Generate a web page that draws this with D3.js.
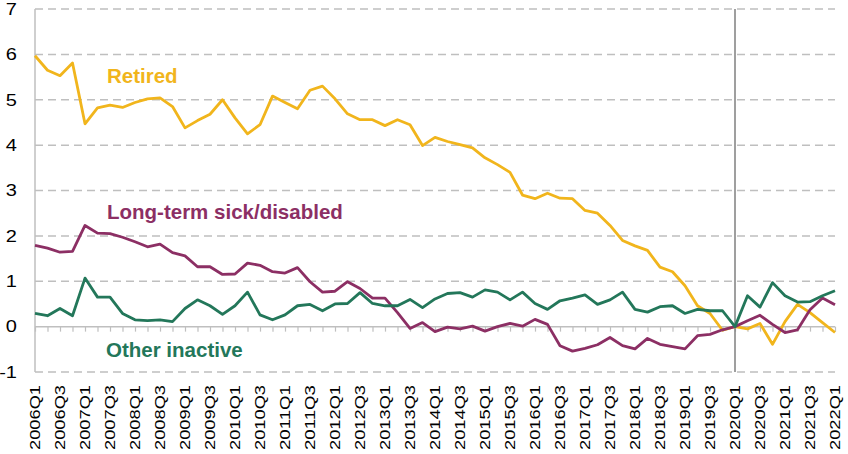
<!DOCTYPE html>
<html>
<head>
<meta charset="utf-8">
<script src="https://cdn.jsdelivr.net/npm/d3@7"></script>
<style>
  html, body { margin: 0; padding: 0; background: #fff; }
  svg { display: block; font-family: "Liberation Sans", Arial, sans-serif; }
</style>
</head>
<body>
<svg id="chart" width="848" height="454"></svg>
<script>
const quarters = ["2006Q1","2006Q2","2006Q3","2006Q4","2007Q1","2007Q2","2007Q3","2007Q4",
  "2008Q1","2008Q2","2008Q3","2008Q4","2009Q1","2009Q2","2009Q3","2009Q4",
  "2010Q1","2010Q2","2010Q3","2010Q4","2011Q1","2011Q2","2011Q3","2011Q4",
  "2012Q1","2012Q2","2012Q3","2012Q4","2013Q1","2013Q2","2013Q3","2013Q4",
  "2014Q1","2014Q2","2014Q3","2014Q4","2015Q1","2015Q2","2015Q3","2015Q4",
  "2016Q1","2016Q2","2016Q3","2016Q4","2017Q1","2017Q2","2017Q3","2017Q4",
  "2018Q1","2018Q2","2018Q3","2018Q4","2019Q1","2019Q2","2019Q3","2019Q4",
  "2020Q1","2020Q2","2020Q3","2020Q4","2021Q1","2021Q2","2021Q3","2021Q4","2022Q1"];

const retired = [5.97,5.65,5.53,5.81,4.47,4.82,4.88,4.83,4.94,5.02,5.04,4.85,4.38,4.54,4.68,5.00,
  4.60,4.25,4.45,5.08,4.94,4.80,5.21,5.30,5.02,4.69,4.56,4.56,4.43,4.56,4.45,3.99,
  4.17,4.08,4.01,3.94,3.72,3.57,3.40,2.90,2.82,2.94,2.83,2.82,2.56,2.50,2.23,1.90,
  1.78,1.68,1.31,1.21,0.90,0.46,0.29,-0.08,0.00,-0.05,0.07,-0.39,0.11,0.49,0.31,0.09,-0.13];

const longTermSick = [1.79,1.73,1.64,1.66,2.23,2.06,2.05,1.97,1.87,1.76,1.82,1.63,1.56,1.32,1.32,1.15,
  1.16,1.40,1.35,1.21,1.18,1.30,0.99,0.76,0.78,0.99,0.84,0.63,0.63,0.31,-0.04,0.09,
  -0.11,-0.01,-0.05,0.01,-0.10,0.00,0.07,0.01,0.16,0.05,-0.42,-0.54,-0.48,-0.40,-0.24,-0.42,
  -0.49,-0.26,-0.39,-0.44,-0.49,-0.20,-0.17,-0.07,0.00,0.13,0.25,0.05,-0.13,-0.07,0.37,0.63,0.48];

const otherInactive = [0.29,0.24,0.40,0.24,1.07,0.65,0.65,0.29,0.15,0.13,0.15,0.11,0.40,0.59,0.46,0.27,
  0.46,0.76,0.26,0.15,0.26,0.46,0.49,0.35,0.50,0.51,0.75,0.51,0.46,0.46,0.60,0.42,
  0.61,0.73,0.75,0.65,0.81,0.76,0.59,0.76,0.51,0.38,0.57,0.63,0.70,0.49,0.59,0.76,
  0.38,0.32,0.44,0.46,0.29,0.38,0.35,0.35,0.00,0.68,0.43,0.97,0.68,0.54,0.55,0.68,0.79];

const yTicks = [-1,0,1,2,3,4,5,6,7];
const xTickLabels = quarters.filter((q, i) => i % 2 === 0);
const markerQuarter = "2020Q1";

const seriesNames = ["Retired", "Long-term sick/disabled", "Other inactive"];
const seriesColors = ["#F1B51C", "#8C2F64", "#23775A"];

const svg = d3.select("#chart");
const x = d3.scalePoint().domain(quarters).range([35, 835]);
const y = d3.scaleLinear().domain([-1, 7]).range([372, 9]);

// gridlines (dashed)
svg.append("g").selectAll("line")
  .data(yTicks.filter(v => v !== 0))
  .join("line")
  .attr("x1", 35).attr("x2", 835)
  .attr("y1", d => y(d)).attr("y2", d => y(d))
  .attr("stroke", "#BFBFBF").attr("stroke-width", 1.5)
  .attr("stroke-dasharray", "8,5");

// y axis line
svg.append("line")
  .attr("x1", 35).attr("x2", 35).attr("y1", y(7)).attr("y2", y(-1))
  .attr("stroke", "#BFBFBF").attr("stroke-width", 1.5);

// x axis (at zero) with quarterly ticks
const xAxis = d3.axisBottom(x).tickSize(5).tickFormat("");
const gx = svg.append("g").attr("transform", `translate(0,${y(0)})`).call(xAxis);
gx.select(".domain").attr("stroke", "#BFBFBF").attr("stroke-width", 1.5)
  .attr("d", `M35,0H835`);
gx.selectAll(".tick line").attr("stroke", "#BFBFBF").attr("stroke-width", 1.2);

// y tick labels
svg.append("g").selectAll("text")
  .data(yTicks)
  .join("text")
  .attr("transform", d => `translate(17,${y(d)}) scale(1.25,1)`)
  .attr("text-anchor", "end")
  .attr("dy", "0.36em")
  .attr("font-size", 16)
  .attr("fill", "#000")
  .text(d => d);

// x tick labels (rotated)
svg.append("g").selectAll("text")
  .data(xTickLabels)
  .join("text")
  .attr("transform", d => `translate(${x(d)},385) rotate(-90)`)
  .attr("text-anchor", "end")
  .attr("dy", "0.36em")
  .attr("font-size", 14.5)
  .attr("textLength", 65)
  .attr("lengthAdjust", "spacingAndGlyphs")
  .attr("fill", "#000")
  .text(d => d);

// vertical marker
svg.append("line")
  .attr("x1", x(markerQuarter)).attr("x2", x(markerQuarter))
  .attr("y1", y(7)).attr("y2", y(-1))
  .attr("stroke", "#7F7F7F").attr("stroke-width", 1.5);

// lines
const line = d3.line().x((d, i) => x(quarters[i])).y(d => y(d));
[retired, longTermSick, otherInactive].forEach((vals, k) => {
  svg.append("path")
    .datum(vals)
    .attr("d", line)
    .attr("fill", "none")
    .attr("stroke", seriesColors[k])
    .attr("stroke-width", 2.8)
    .attr("stroke-linejoin", "round");
});

// series labels
const labelPos = [[107, 83], [107, 219], [106, 357]];
seriesNames.forEach((name, k) => {
  svg.append("text")
    .attr("x", labelPos[k][0]).attr("y", labelPos[k][1])
    .attr("font-size", 20.5)
    .attr("font-weight", "bold")
    .attr("fill", seriesColors[k])
    .text(name);
});
</script>
</body>
</html>
